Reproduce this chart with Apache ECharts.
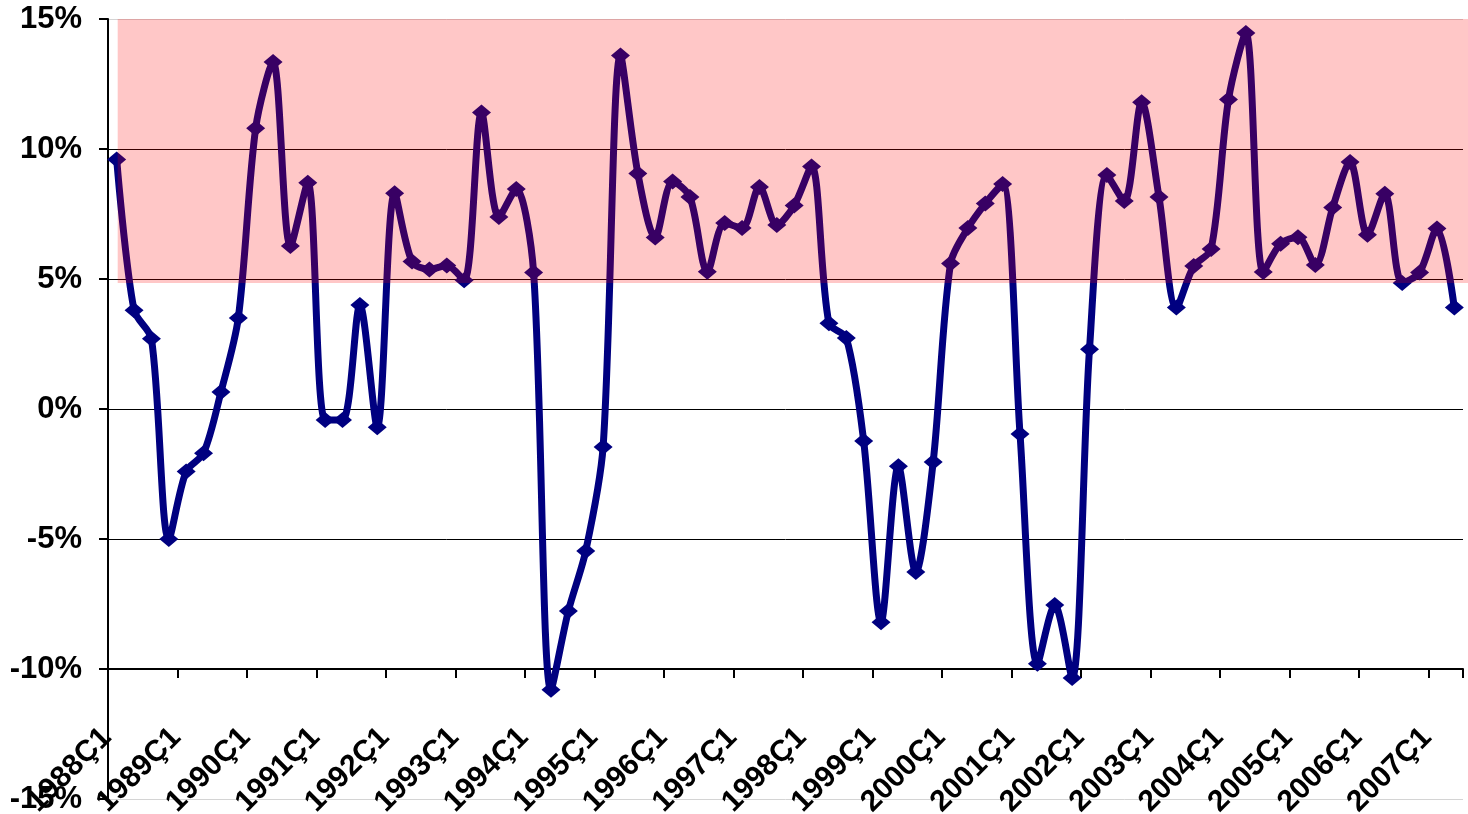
<!DOCTYPE html>
<html>
<head>
<meta charset="utf-8">
<script src="https://cdn.jsdelivr.net/npm/echarts@6/dist/echarts.min.js"></script>
<style>
html,body{margin:0;padding:0;background:#fff;}
#c{width:1468px;height:814px;}
</style>
</head>
<body>
<div id="c"></div>
<script>
// Quarterly categories (1988Ç1 .. 2007Ç2)
const categories = [
 '1988Ç1','1988Ç2','1988Ç3','1988Ç4',
 '1989Ç1','1989Ç2','1989Ç3','1989Ç4',
 '1990Ç1','1990Ç2','1990Ç3','1990Ç4',
 '1991Ç1','1991Ç2','1991Ç3','1991Ç4',
 '1992Ç1','1992Ç2','1992Ç3','1992Ç4',
 '1993Ç1','1993Ç2','1993Ç3','1993Ç4',
 '1994Ç1','1994Ç2','1994Ç3','1994Ç4',
 '1995Ç1','1995Ç2','1995Ç3','1995Ç4',
 '1996Ç1','1996Ç2','1996Ç3','1996Ç4',
 '1997Ç1','1997Ç2','1997Ç3','1997Ç4',
 '1998Ç1','1998Ç2','1998Ç3','1998Ç4',
 '1999Ç1','1999Ç2','1999Ç3','1999Ç4',
 '2000Ç1','2000Ç2','2000Ç3','2000Ç4',
 '2001Ç1','2001Ç2','2001Ç3','2001Ç4',
 '2002Ç1','2002Ç2','2002Ç3','2002Ç4',
 '2003Ç1','2003Ç2','2003Ç3','2003Ç4',
 '2004Ç1','2004Ç2','2004Ç3','2004Ç4',
 '2005Ç1','2005Ç2','2005Ç3','2005Ç4',
 '2006Ç1','2006Ç2','2006Ç3','2006Ç4',
 '2007Ç1','2007Ç2'
];
// Growth rate, %
const growth = [
  9.6, 3.8, 2.7, -5.0,
 -2.4, -1.7, 0.65, 3.5,
 10.8, 13.35, 6.27, 8.7,
 -0.42, -0.42, 4.0, -0.7,
  8.3, 5.67, 5.37, 5.52,
  4.95, 11.4, 7.38, 8.46,
  5.25, -10.8, -7.77, -5.46,
 -1.46, 13.6, 9.06, 6.6,
  8.75, 8.15, 5.28, 7.15,
  6.96, 8.54, 7.08, 7.83,
  9.33, 3.3, 2.73, -1.23,
 -8.2, -2.2, -6.27, -2.04,
  5.6, 6.96, 7.9, 8.65,
 -0.96, -9.8, -7.54, -10.35,
  2.3, 9.0, 8.0, 11.8,
  8.15, 3.9, 5.5, 6.15,
 11.9, 14.46, 5.27, 6.36,
  6.61, 5.54, 7.75, 9.5,
  6.7, 8.28, 4.85, 5.25,
  6.94, 3.9
];
// Shaded band (lower and upper bound, %)
const bandLow = 4.85;
const bandHigh = 15;
// Y-axis ticks
const yMin = -15, yMax = 15, yStep = 5;

const chart = echarts.init(document.getElementById('c'), null, {renderer:'canvas'});
const FONT = '"Liberation Sans", Arial, sans-serif';
const splitColors = ['#d4d4d4','#000','#000','#000','#000','#000','#d4d4d4'];

chart.setOption({
  animation: false,
  backgroundColor: '#ffffff',
  grid: {left: 108, right: 5, top: 19, bottom: 15, containLabel: false, outerBoundsMode: 'none'},
  xAxis: {
    type: 'category',
    data: categories,
    boundaryGap: true,
    offset: -130,
    axisLine: {show: true, onZero: false, lineStyle: {color: '#000', width: 2}},
    axisTick: {show: true, interval: 3, length: 9, lineStyle: {color: '#000', width: 2}},
    axisLabel: {
      interval: 3, rotate: 45, margin: 54, padding: [0, 14, 0, 0],
      fontFamily: FONT, fontWeight: 'bold', fontSize: 30, color: '#000'
    },
    splitLine: {show: false}
  },
  yAxis: {
    type: 'value',
    min: yMin, max: yMax, interval: yStep,
    axisLine: {show: true, lineStyle: {color: '#000', width: 2}},
    axisTick: {show: true, length: 9, lineStyle: {color: '#000', width: 2}},
    axisLabel: {
      formatter: '{value}%', margin: 26,
      fontFamily: FONT, fontWeight: 'bold', fontSize: 31, color: '#000'
    },
    splitLine: {show: true, lineStyle: {color: splitColors, width: 1}}
  },
  series: [{
    type: 'line',
    data: growth,
    smooth: 0.3,
    symbol: 'diamond',
    symbolSize: [19, 16],
    showSymbol: true,
    showAllSymbol: true,
    lineStyle: {color: '#000080', width: 7},
    itemStyle: {color: '#000080'},
    z: 2
  }]
});

const xL = chart.convertToPixel({xAxisIndex: 0}, categories[0]) + 1;
const yT = chart.convertToPixel({yAxisIndex: 0}, bandHigh);
const yB = chart.convertToPixel({yAxisIndex: 0}, bandLow);
chart.setOption({
  graphic: [{
    type: 'rect', silent: true, z: 100,
    shape: {x: xL, y: yT, width: chart.getWidth() - xL, height: yB - yT},
    style: {fill: 'rgba(255,0,0,0.22)'}
  }]
});
</script>
</body>
</html>
